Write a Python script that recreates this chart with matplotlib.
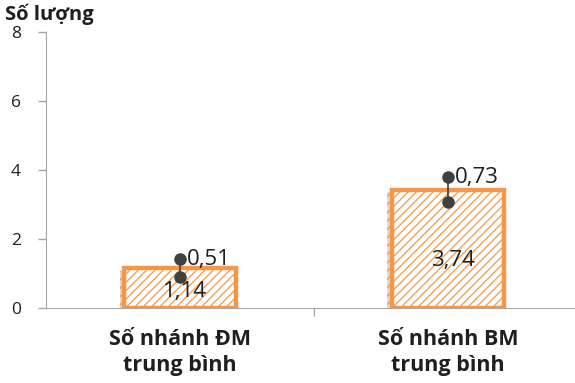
import matplotlib
matplotlib.use('Agg')
import matplotlib.pyplot as plt
import matplotlib.patheffects as pe

# data biểu đồ
categories = ['Số nhánh ĐM\ntrung bình', 'Số nhánh BM\ntrung bình']
bar_heights = [1.16, 3.43]
bar_labels = ['1,14', '3,74']
err_values = [0.51, 0.73]
err_labels = ['0,51', '0,73']
y_ticks = [0, 2, 4, 6, 8]

plt.rcParams['font.family'] = ['Open Sans', 'DejaVu Sans']
plt.rcParams['hatch.linewidth'] = 0.9

orange = '#F79646'
dark = '#404040'
grey = '#A6A6A6'
txt = '#1F1F1F'

fig = plt.figure(figsize=(5.75, 3.83), dpi=100)
ax = fig.add_axes([0.08, 0.196, 0.932, 0.72])

x = range(len(categories))
bars = ax.bar(x, bar_heights, width=0.42, facecolor='white', edgecolor=orange,
              linewidth=3.2, hatch='////', zorder=2)
for b in bars:
    b.set_path_effects([pe.SimplePatchShadow(offset=(-3, -2), shadow_rgbFace='#BBBBBB', alpha=0.5),
                        pe.Normal()])

# thanh sai số: nửa trên, nửa dưới quanh đỉnh cột
for i, (h, e) in enumerate(zip(bar_heights, err_values)):
    lo, hi = h - e / 2, h + e / 2
    ax.plot([i, i], [lo, hi], color=dark, lw=1.2, zorder=3)
    ax.plot([i, i], [lo, hi], 'o', color=dark, ms=8, zorder=4)
    ax.annotate(err_labels[i], (i, hi), xytext=(5, 0), textcoords='offset points',
                ha='left', va='center', fontsize=16, color=txt)
    ax.text(i + 0.02, h * 0.4, bar_labels[i], ha='center', va='center',
            fontsize=16, color=txt, zorder=5)

ax.set_xlim(-0.5, 1.5)
ax.set_ylim(0, 8)
ax.set_yticks(y_ticks)
ax.set_yticklabels([str(v) for v in y_ticks], fontsize=12.5, color=txt)
ax.set_xticks([0.5])
ax.set_xticklabels([''])
ax.tick_params(axis='x', length=6, color=grey, width=1)
ax.tick_params(axis='y', length=6, color=grey, width=1, pad=12)

for i, c in enumerate(categories):
    ax.text(i, -0.62, c, ha='center', va='top', fontsize=15.5, fontweight='bold',
            color=txt, linespacing=1.3, transform=ax.transData)

for s in ['top', 'right']:
    ax.spines[s].set_visible(False)
ax.spines['left'].set_color(grey)
ax.spines['bottom'].set_color(grey)

fig.text(0.008, 0.99, 'Số lượng', ha='left', va='top', fontsize=14.5, fontweight='bold',
         color=txt)

fig.savefig('out.png', dpi=100)
